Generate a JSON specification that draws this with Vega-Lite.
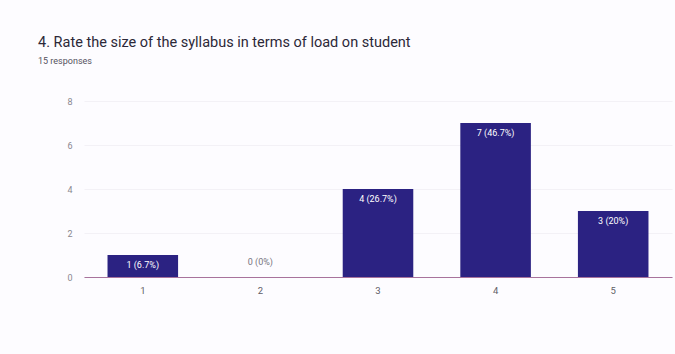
{
  "$schema": "https://vega.github.io/schema/vega-lite/v6.json",
  "autosize": "none",
  "width": 588,
  "height": 176,
  "padding": {"left": 84, "top": 101, "right": 3, "bottom": 77},
  "background": "#fdfcff",
  "title": {
    "text": "4. Rate the size of the syllabus in terms of load on student",
    "subtitle": "15 responses",
    "anchor": "start",
    "frame": "group",
    "dx": -46,
    "offset": 30,
    "font": "Roboto",
    "fontSize": 14.5,
    "fontWeight": "normal",
    "color": "#2c2838",
    "subtitleFont": "Roboto",
    "subtitleFontSize": 9,
    "subtitleColor": "#55525e",
    "subtitlePadding": 7
  },
  "data": {
    "values": [
      {"rating": "1", "count": 1, "label": "1 (6.7%)"},
      {"rating": "2", "count": 0, "label": "0 (0%)"},
      {"rating": "3", "count": 4, "label": "4 (26.7%)"},
      {"rating": "4", "count": 7, "label": "7 (46.7%)"},
      {"rating": "5", "count": 3, "label": "3 (20%)"}
    ]
  },
  "encoding": {
    "x": {
      "field": "rating",
      "type": "ordinal",
      "sort": null,
      "scale": {"paddingInner": 0.4, "paddingOuter": 0.2},
      "axis": {
        "title": null,
        "labelAngle": 0,
        "ticks": false,
        "labelFont": "Roboto",
        "labelFontSize": 9.5,
        "labelColor": "#5f5c66",
        "labelPadding": 8,
        "domainColor": "#a8739c",
        "domainWidth": 1.2
      }
    },
    "y": {
      "field": "count",
      "type": "quantitative",
      "scale": {"domain": [0, 8]},
      "axis": {
        "title": null,
        "values": [0, 2, 4, 6, 8],
        "ticks": false,
        "domain": false,
        "labelFont": "Roboto",
        "labelFontSize": 9,
        "labelColor": "#8a8790",
        "labelPadding": 12,
        "gridColor": "#f3f1f6"
      }
    }
  },
  "layer": [
    {"mark": {"type": "bar", "color": "#2b2282"}},
    {
      "transform": [{"filter": "datum.count > 0"}],
      "mark": {"type": "text", "baseline": "top", "dy": 6, "color": "#ffffff", "font": "Roboto", "fontSize": 9},
      "encoding": {"text": {"field": "label"}}
    },
    {
      "transform": [{"filter": "datum.count == 0"}],
      "mark": {"type": "text", "baseline": "bottom", "dy": -10, "color": "#77747e", "font": "Roboto", "fontSize": 9},
      "encoding": {"text": {"field": "label"}}
    }
  ],
  "config": {"view": {"stroke": null}}
}
